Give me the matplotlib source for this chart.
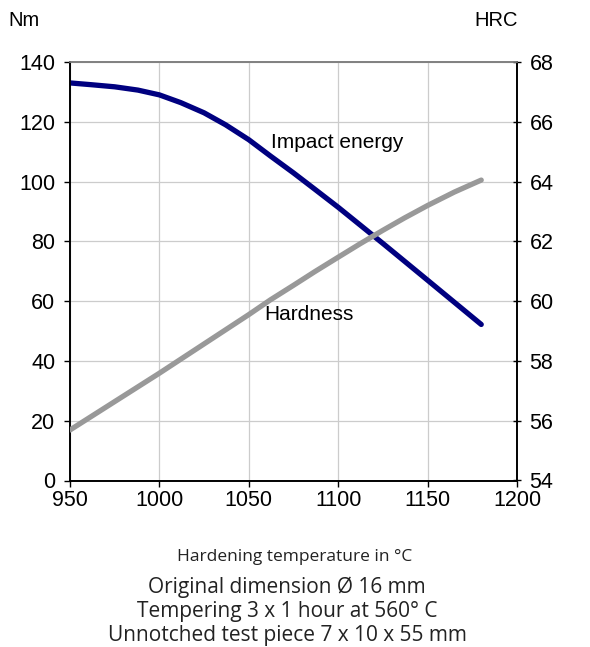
import matplotlib.pyplot as plt

# Data
impact_temp = [950, 962, 975, 988, 1000, 1012, 1025, 1037, 1050, 1062, 1075, 1087,
               1100, 1112, 1125, 1137, 1150, 1165, 1180]
impact_energy = [133.0, 132.4, 131.7, 130.6, 129.0, 126.4, 123.0, 119.0, 114.0, 108.6,
                 102.9, 97.4, 91.4, 85.6, 79.3, 73.4, 67.0, 59.6, 52.2]

hardness_temp = [950, 1000, 1050, 1062, 1075, 1087, 1100, 1112, 1125, 1137, 1150, 1165, 1180]
hardness_hrc = [55.69, 57.59, 59.55, 60.04, 60.53, 60.99, 61.47, 61.91, 62.37, 62.78,
                63.2, 63.65, 64.05]

x_ticks = [950, 1000, 1050, 1100, 1150, 1200]
left_ticks = [0, 20, 40, 60, 80, 100, 120, 140]
right_ticks = [54, 56, 58, 60, 62, 64, 66, 68]

notes = [
    "Original dimension \u00d8 16 mm",
    "Tempering 3 x 1 hour at 560\u00b0 C",
    "Unnotched test piece 7 x 10 x 55 mm",
]

plt.rcParams["font.family"] = ["Liberation Sans", "DejaVu Sans"]

fig = plt.figure(figsize=(5.9, 6.47), dpi=100)
ax = fig.add_axes([70 / 590, 1 - 480.5 / 647, 447 / 590, 418.5 / 647])
ax2 = ax.twinx()

ax.plot(impact_temp, impact_energy, color="#000080", lw=3.8,
        solid_capstyle="round", solid_joinstyle="round", zorder=3)
ax2.plot(hardness_temp, hardness_hrc, color="#999999", lw=3.8,
         solid_capstyle="round", solid_joinstyle="round", zorder=3)

ax.set_xlim(950, 1200)
ax.set_ylim(0, 140)
ax2.set_ylim(54, 68)
ax.set_xticks(x_ticks)
ax.set_yticks(left_ticks)
ax2.set_yticks(right_ticks)

ax.grid(True, color="#cccccc", lw=0.9)
ax.set_axisbelow(True)

for a in (ax, ax2):
    a.spines["top"].set_color("#808080")
    a.spines["top"].set_linewidth(1.2)
    for s in ("left", "right", "bottom"):
        a.spines[s].set_color("black")
        a.spines[s].set_linewidth(1.2)

ax.tick_params(axis="both", labelsize=15.5, length=4.5, width=1, direction="out")
ax.tick_params(axis="y", pad=6)
ax.tick_params(axis="x", pad=2)
ax2.tick_params(axis="y", labelsize=15.5, length=6, width=1, direction="inout", pad=6)

ax.text(1062.3, 111.1, "Impact energy", fontsize=15, va="baseline", ha="left")
ax.text(1058.7, 53.7, "Hardness", fontsize=15, va="baseline", ha="left")

fig.text(8 / 590, 1 - 20 / 647, "Nm", fontsize=14.5, va="center", ha="left")
fig.text(518 / 590, 1 - 20 / 647, "HRC", fontsize=14.5, va="center", ha="right")

fig.text(295 / 590, 1 - 557 / 647, "Hardening temperature in \u00b0C",
         fontsize=12.5, ha="center", va="center", family=["Open Sans", "DejaVu Sans"],
         color="#222222")
for i, line in enumerate(notes):
    fig.text(287 / 590, 1 - (587 + 24.5 * i) / 647, line, fontsize=15,
             ha="center", va="center", family=["Open Sans", "DejaVu Sans"],
             color="#222222")

fig.savefig("out.png", dpi=100)
